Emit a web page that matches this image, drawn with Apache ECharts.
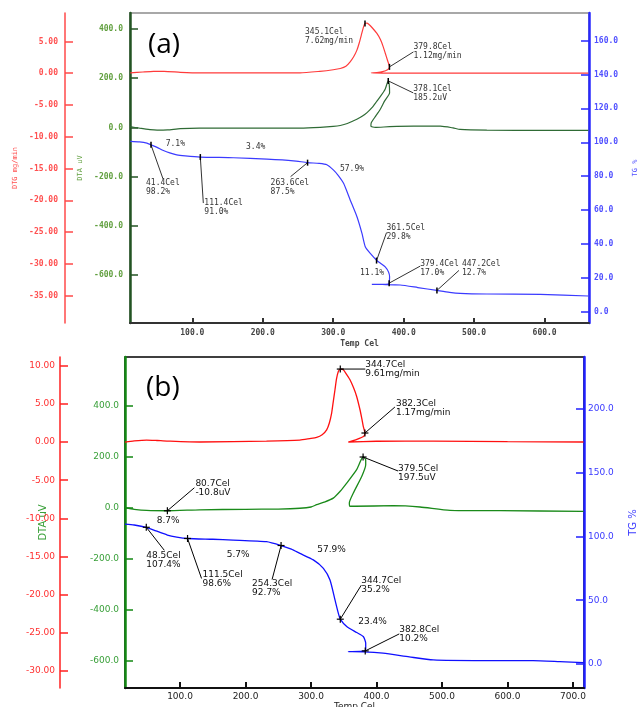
<!DOCTYPE html>
<html><head><meta charset="utf-8">
<script src="https://cdn.jsdelivr.net/npm/echarts@6/dist/echarts.min.js"></script>
<style>html,body{margin:0;padding:0;background:#fff}#c{width:638px;height:707px}</style>
</head><body><div id="c"></div>
<script>
// ---------- Panel (a) curves: [Temp Cel, value] ----------
const dtgA = [[12,0.05],[30,0.2],[45,0.3],[60,0.3],[83,0.15],[110,0.05],[200,0.05],[253,0.05],[281,0.3],[300,0.55],[310,0.75],[318,1.1],[324,1.8],[329,2.6],[333.5,3.6],[337,4.8],[340.6,6.3],[343,7.3],[345.1,7.84],[348,7.9],[350,7.75],[355,7.2],[362,6.26],[367,5.3],[371,4.15],[374,3.1],[377,2.05],[379.8,1.0],[377,0.55],[370,0.25],[362,0.1],[354,0.03],[370,0.02],[400,0.02],[500,0.02],[662,0.02]];
const dtaA = [[12,3],[25,-3],[40,-9],[50,-11],[65,-10],[83,-5],[110,-3],[200,-3],[253,-3],[281.5,0],[300,4],[310,8],[320,16],[333.5,33],[341,45],[348,60],[355,80],[362,107],[368,130],[373.7,155],[378.1,189],[379.5,175],[380,141],[373,108],[366.6,73],[360,45],[354,19],[353.5,5],[359.5,0],[380,3],[414,5],[452,5],[470,-2],[480,-8],[518,-11],[600,-12],[662,-12]];
const tgA = [[12,100.5],[25,100.2],[35.6,99.5],[41.4,98.5],[50,97],[59,95.2],[68,93.8],[78,92.6],[90,92],[111.4,91.3],[158.5,90.9],[206,90.1],[243.6,89.1],[263.6,88.0],[280,87.6],[291,86.8],[300.5,83.6],[307,80.5],[314.7,75.8],[324.2,65.9],[333.7,56.1],[340.8,46.3],[345.5,38.4],[352.6,34.5],[362,30.3],[368,28.4],[373.8,26.6],[378.5,23.6],[380,20.7],[379.4,17.0],[378,16.5],[370,16.3],[354.8,16.3],[370,16.2],[395,15.9],[420,14.4],[447.2,12.7],[465,11.6],[480,11],[518,10.6],[594,10.4],[662,9.4]];

// ---------- Panel (b) curves ----------
const dtgB = [[16,0],[30,0.15],[49,0.26],[65,0.2],[80,0.13],[130,0],[232,0.13],[283,0.26],[298,0.45],[308.6,0.6],[317,0.95],[323.9,1.6],[328,2.5],[331.5,3.8],[334,5.3],[336.6,6.85],[339,8.3],[341.7,9.25],[344.7,9.56],[349.3,9.47],[354,8.9],[359.5,8.16],[365,7.1],[369.7,5.97],[374.8,4.23],[377.5,3.1],[379.8,2.04],[382.3,1.18],[381,0.8],[370,0.35],[357,0],[400,0.1],[487,0.13],[600,0.05],[716,0]];
const dtaB = [[16,0],[30,-6],[49,-10.5],[80.7,-11.8],[130,-8],[200,-6],[250,-5],[283,-2],[300,3],[308.6,12],[320,22],[334,38],[344.2,64],[354.5,97],[369.7,150],[379.5,199.5],[383.5,189],[383.5,169],[377.4,123],[364.6,58],[358.5,19],[359.5,6],[367.1,6],[425.6,8],[466.4,3],[512.2,-10],[588.5,-11.5],[716,-14]];
const tgB = [[16,109.7],[30,109],[48.5,107.2],[60,105],[80.7,101.1],[95,99.5],[111.5,98.4],[150,97.8],[181,97.2],[232,95.9],[254.3,92.9],[270,90],[283,86.7],[303.5,81.6],[318.9,75],[329,65.8],[336.6,50.2],[341.7,39.8],[344.7,35.1],[354.5,29.3],[369.7,24.6],[379.8,21.5],[383.5,16.2],[383.5,12],[382.8,10.2],[375,9.8],[357,9.6],[380,9.5],[410,8.4],[450,5.5],[486.7,3.1],[563,2.6],[639,2.6],[680,1.8],[716,1]];

// ---------- Tick labels ----------
const xTicksA = [100,200,300,400,500,600];
const dtgTicksA = [-35,-30,-25,-20,-15,-10,-5,0,5];
const dtaTicksA = [-600,-400,-200,0,200,400];
const tgTicksA = [0,20,40,60,80,100,120,140,160];
const xTicksB = [100,200,300,400,500,600,700];
const dtgTicksB = [-30,-25,-20,-15,-10,-5,0,5,10];
const dtaTicksB = [-600,-400,-200,0,200,400];
const tgTicksB = [0,50,100,150,200];

// ---------- Annotations: [Temp, value, text] ----------
const notesA_dtg = [[345.1,7.84,'345.1Cel\n7.62mg/min'],[379.8,1.0,'379.8Cel\n1.12mg/min']];
const notesA_dta = [[378.1,189,'378.1Cel\n185.2uV']];
const notesA_tg = [[41.4,98.5,'41.4Cel\n98.2%'],[111.4,91.3,'111.4Cel\n91.0%'],[263.6,88.0,'263.6Cel\n87.5%'],[361.5,30.3,'361.5Cel\n29.8%'],[379.4,17.0,'379.4Cel\n17.0%'],[447.2,12.7,'447.2Cel\n12.7%']];
const stepsA = [[62.3,99.0,'7.1%'],[176.3,97.4,'3.4%'],[309.6,84.1,'57.9%'],[338,23.0,'11.1%']];
const notesB_dtg = [[344.7,9.56,'344.7Cel\n9.61mg/min'],[382.3,1.18,'382.3Cel\n1.17mg/min']];
const notesB_dta = [[379.5,199.5,'379.5Cel\n197.5uV'],[80.7,-11.8,'80.7Cel\n-10.8uV']];
const notesB_tg = [[48.5,107.2,'48.5Cel\n107.4%'],[111.5,98.4,'111.5Cel\n98.6%'],[254.3,92.9,'254.3Cel\n92.7%'],[344.7,35.1,'344.7Cel\n35.2%'],[382.8,10.2,'382.8Cel\n10.2%']];
const stepsB = [[64.4,112.3,'8.7%'],[171.3,86.1,'5.7%'],[309.6,89.5,'57.9%'],[372.2,33.2,'23.4%']];

// label layout (pixel offsets): [textDx, textDy, leaderDx, leaderDy]
const layA_dtg = [[-60,4,null,null],[24,-24,24,-15]];
const layA_dta = [[25,4,25,12]];
const layA_tg = [[-5,34,12,34],[4,41,3,46],[-37,16,-17,14],[10,-37,10,-28],[31,-24,31,-17],[25,-31,22,-20]];
const layB_dtg = [[25,-9,25,0],[31,-34,30,-26]];
const layB_dta = [[35,7,35,14],[28,-32,27,-23]];
const layB_tg = [[0,24,18,23],[15,32,14,40],[-29,34,-9,34],[21,-43,21,-34],[34,-26,34,-17]];

const fontA = 'DejaVu Sans Mono';
const fontB = 'DejaVu Sans';

function noteSeries(xi, yi, notes, lay, st) {
  return {
    type:'custom', xAxisIndex:xi, yAxisIndex:yi, silent:true, z:10,
    data: notes.map(n => [n[0], n[1]]),
    renderItem: function (params, api) {
      const i = params.dataIndex;
      const p = api.coord([api.value(0), api.value(1)]);
      const L = lay[i];
      const ch = [];
      if (L[2] !== null) {
        ch.push({type:'line', shape:{x1:p[0], y1:p[1], x2:p[0]+L[2], y2:p[1]+L[3]}, style:{stroke:st.line, lineWidth:1}});
      }
      if (st.marker === 'plus') {
        ch.push({type:'line', shape:{x1:p[0]-3.5, y1:p[1], x2:p[0]+3.5, y2:p[1]}, style:{stroke:'#000', lineWidth:1.2}});
        ch.push({type:'line', shape:{x1:p[0], y1:p[1]-3.5, x2:p[0], y2:p[1]+3.5}, style:{stroke:'#000', lineWidth:1.2}});
      } else {
        ch.push({type:'line', shape:{x1:p[0], y1:p[1]-3, x2:p[0], y2:p[1]+3}, style:{stroke:'#000', lineWidth:1.5}});
      }
      ch.push({type:'text', x:p[0]+L[0], y:p[1]+L[1], style:{text:notes[i][2], fill:st.color, font:st.font, textAlign:'left', textVerticalAlign:'top', align:'left', verticalAlign:'top', lineHeight:st.lh}});
      return {type:'group', children:ch};
    }
  };
}
function stepSeries(xi, yi, steps, st) {
  return {
    type:'custom', xAxisIndex:xi, yAxisIndex:yi, silent:true, z:10,
    data: steps.map(s => [s[0], s[1]]),
    renderItem: function (params, api) {
      const p = api.coord([api.value(0), api.value(1)]);
      return {type:'text', x:p[0], y:p[1], style:{text:steps[params.dataIndex][2], fill:st.color, font:st.font, textAlign:'left', textVerticalAlign:'middle', align:'left', verticalAlign:'middle'}};
    }
  };
}
function yAx(o) {
  return {
    type:'value', gridIndex:o.g, position:o.pos, offset:o.off, min:o.min, max:o.max,
    axisLine:{show:true, onZero:false, lineStyle:{color:o.lc, width:o.lw}},
    axisTick:{show:true, inside:true, length:8, customValues:o.ticks, lineStyle:{color:o.lc, width:1.5}},
    axisLabel:{customValues:o.ticks, formatter:v => v.toFixed(o.dec), color:o.tc, fontFamily:o.font, fontSize:o.fs, fontWeight:o.fw||'normal', margin:o.margin},
    splitLine:{show:false},
    name:o.name||'', nameLocation:'middle', nameGap:o.gap||0, nameRotate:90,
    nameTextStyle:{color:o.tc, fontFamily:o.font, fontSize:o.nfs||7}
  };
}
function xAx(o) {
  return {
    type:'value', gridIndex:o.g, min:o.min, max:o.max,
    axisLine:{show:true, onZero:false, lineStyle:{color:o.lc, width:2}},
    axisTick:{show:true, inside:true, length:o.tl, customValues:o.ticks, lineStyle:{color:o.lc, width:2}},
    axisLabel:{customValues:o.ticks, formatter:v => v.toFixed(1), color:o.tc, fontFamily:o.font, fontSize:o.fs, fontWeight:o.fw||'normal', margin:o.margin},
    splitLine:{show:false},
    name:'Temp Cel', nameLocation:'middle', nameGap:o.gap,
    nameTextStyle:{color:o.tc, fontFamily:o.font, fontSize:o.fs, fontWeight:o.fw||'normal'}
  };
}
function line(xi, yi, data, color, w) {
  return {type:'line', xAxisIndex:xi, yAxisIndex:yi, data:data, showSymbol:false, symbol:'none', smooth:0.2, silent:true, lineStyle:{color:color, width:w}};
}

const stA = {color:'#333', line:'#333', font:'8px ' + fontA, lh:9, marker:'tick'};
const stB = {color:'#111', line:'#000', font:'9px ' + fontB, lh:9, marker:'plus'};

const option = {
  animation:false,
  backgroundColor:'#fff',
  title:[
    {text:'(a)', left:143, top:26, textStyle:{fontFamily:'Open Sans', fontSize:28, fontWeight:'normal', color:'#000'}},
    {text:'(b)', left:141, top:369, textStyle:{fontFamily:'Open Sans', fontSize:28, fontWeight:'normal', color:'#000'}}
  ],
  grid:[
    {left:130, top:13, width:459, height:310, show:true, borderColor:'#a8a8a8', borderWidth:2, outerBoundsMode:'none', containLabel:false},
    {left:125, top:357, width:459, height:331, show:true, borderColor:'#000', borderWidth:1.5, outerBoundsMode:'none', containLabel:false}
  ],
  xAxis:[
    xAx({g:0, min:11.6, max:663, ticks:xTicksA, lc:'#333', tc:'#444', font:fontA, fs:8, fw:'bold', tl:5, margin:6, gap:17}),
    xAx({g:1, min:16, max:716.8, ticks:xTicksB, lc:'#111', tc:'#222', font:fontB, fs:9, tl:6, margin:4, gap:13})
  ],
  yAxis:[
    yAx({g:0, pos:'left', off:65, min:-39.3, max:9.48, ticks:dtgTicksA, dec:2, lc:'#ff4a4a', lw:1.5, tc:'#ff5050', font:fontA, fs:8, fw:'bold', margin:7, name:'DTG mg/min', gap:44}),
    yAx({g:0, pos:'left', off:0, min:-794, max:464.6, ticks:dtaTicksA, dec:1, lc:'#235423', lw:2.5, tc:'#62a040', font:fontA, fs:8, fw:'bold', margin:7, name:'DTA uV', gap:43}),
    yAx({g:0, pos:'right', off:0, min:-6.5, max:176.2, ticks:tgTicksA, dec:1, lc:'#2828ff', lw:2.5, tc:'#5050ff', font:fontA, fs:8, fw:'bold', margin:5, name:'TG %', gap:43}),
    yAx({g:1, pos:'left', off:65, min:-32.23, max:11.14, ticks:dtgTicksB, dec:2, lc:'#ff2020', lw:1.5, tc:'#ff3030', font:fontB, fs:9, margin:5}),
    yAx({g:1, pos:'left', off:0, min:-708.5, max:592.6, ticks:dtaTicksB, dec:1, lc:'#138813', lw:2.5, tc:'#3aa03a', font:fontB, fs:9, margin:6, name:'DTA uV', gap:77, nfs:10}),
    yAx({g:1, pos:'right', off:0, min:-18.9, max:240.8, ticks:tgTicksB, dec:1, lc:'#2020ff', lw:2.5, tc:'#3a3aff', font:fontB, fs:9, margin:4, name:'TG %', gap:44, nfs:10})
  ],
  series:[
    line(0,0,dtgA,'#ff3b3b',1.2),
    line(0,1,dtaA,'#2f6b35',1.2),
    line(0,2,tgA,'#3b3bff',1.2),
    line(1,3,dtgB,'#ff1010',1.3),
    line(1,4,dtaB,'#1a8a1a',1.3),
    line(1,5,tgB,'#1010ff',1.3),
    noteSeries(0,0,notesA_dtg,layA_dtg,stA),
    noteSeries(0,1,notesA_dta,layA_dta,stA),
    noteSeries(0,2,notesA_tg,layA_tg,stA),
    stepSeries(0,2,stepsA,stA),
    noteSeries(1,3,notesB_dtg,layB_dtg,stB),
    noteSeries(1,4,notesB_dta,layB_dta,stB),
    noteSeries(1,5,notesB_tg,layB_tg,stB),
    stepSeries(1,5,stepsB,stB)
  ]
};
echarts.init(document.getElementById('c'), null, {renderer:'canvas'}).setOption(option);
</script>
</body></html>
